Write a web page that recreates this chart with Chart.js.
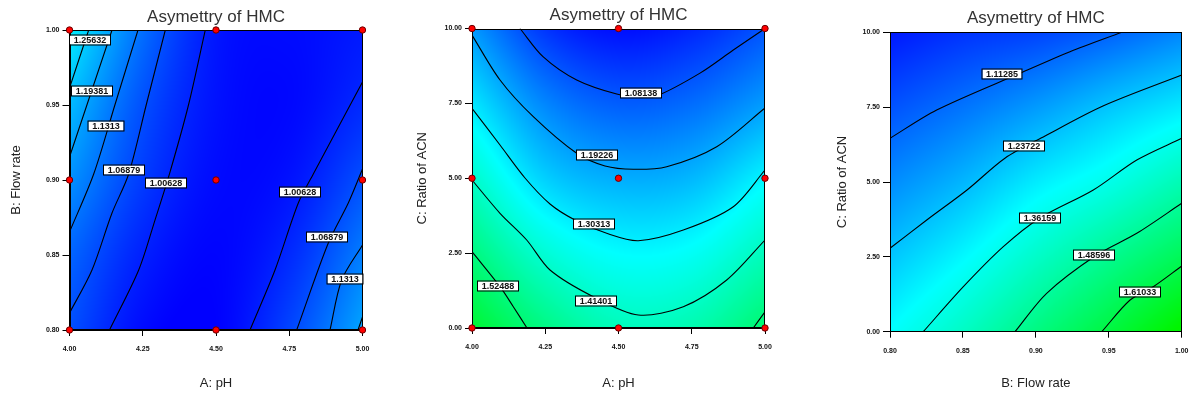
<!DOCTYPE html>
<html>
<head>
<meta charset="utf-8">
<script src="https://cdn.jsdelivr.net/npm/chart.js@4/dist/chart.umd.min.js"></script>
<style>
  html, body { margin: 0; padding: 0; background: #fff; }
  #wrap { position: relative; width: 1192px; height: 400px; overflow: hidden; }
  #wrap canvas { position: absolute; top: 0; }
</style>
</head>
<body>
<div id="wrap">
  <canvas id="cPhFlow" width="400" height="400" style="left:0px"></canvas>
  <canvas id="cPhAcn" width="420" height="400" style="left:400px"></canvas>
  <canvas id="cFlowAcn" width="372" height="400" style="left:820px"></canvas>
</div>
<script>
// ---------- axis ticks ----------
const phTicks = [4.00, 4.25, 4.50, 4.75, 5.00];
const phTickLabels = ['4.00', '4.25', '4.50', '4.75', '5.00'];
const flowTicks = [0.80, 0.85, 0.90, 0.95, 1.00];
const flowTickLabels = ['0.80', '0.85', '0.90', '0.95', '1.00'];
const acnTicks = [0, 2.5, 5, 7.5, 10];
const acnTickLabels = ['0.00', '2.50', '5.00', '7.50', '10.00'];

// ---------- response surface: asymmetry of HMC ----------
// rows follow the y ticks (bottom -> top), columns follow the x ticks (left -> right)
const asymPhFlow = [
  [1.075, 0.975, 0.960, 1.059, 1.200],
  [1.107, 1.006, 0.965, 1.019, 1.142],
  [1.170, 1.045, 0.975, 0.985, 1.075],
  [1.232, 1.076, 0.985, 0.970, 1.020],
  [1.307, 1.120, 0.992, 0.975, 0.995]
];
const asymPhAcn = [
  [1.642, 1.520, 1.438, 1.453, 1.550],
  [1.527, 1.393, 1.329, 1.343, 1.434],
  [1.411, 1.262, 1.212, 1.227, 1.316],
  [1.296, 1.154, 1.095, 1.117, 1.186],
  [1.182, 1.035, 0.980, 1.012, 1.081]
];
const asymFlowAcn = [
  [1.332, 1.420, 1.523, 1.623, 1.735],
  [1.247, 1.322, 1.412, 1.500, 1.588],
  [1.162, 1.224, 1.302, 1.363, 1.445],
  [1.078, 1.128, 1.184, 1.246, 1.300],
  [0.993, 1.032, 1.056, 1.100, 1.154]
];

// ---------- contour levels ----------
const levelsPhFlow = [1.00628, 1.06879, 1.1313, 1.19381, 1.25632];
const levelsPhAcn = [1.08138, 1.19226, 1.30313, 1.41401, 1.52488];
const levelsFlowAcn = [1.11285, 1.23722, 1.36159, 1.48596, 1.61033];

// ---------- contour traces, [x, y] in axis units ----------
// A: pH vs B: Flow rate
const pf1006L = [[4.4635,1.000],[4.4061,0.950],[4.3430,0.9053],[4.2918,0.8733],[4.2362,0.840],[4.1365,0.800]];
const pf1069L = [[4.3270,1.000],[4.2618,0.950],[4.2020,0.904],[4.1451,0.878],[4.0768,0.840],[4.0000,0.8113]];
const pf1131L = [[4.2338,1.000],[4.1549,0.950],[4.0826,0.904],[4.0000,0.8653]];
const pf1194L = [[4.1451,1.000],[4.0594,0.950],[4.0000,0.9153]];
const pf1256L = [[4.0655,1.000],[4.0000,0.9613]];
const pf1006R = [[5.0000,0.9653],[4.8321,0.904],[4.7809,0.8847],[4.7014,0.840],[4.6160,0.800]];
const pf1069R = [[5.0000,0.9073],[4.9515,0.8847],[4.8833,0.858],[4.7754,0.800]];
const pf1131R = [[5.0000,0.8567],[4.9290,0.8333],[4.8891,0.800]];
const pf1194R = [[5.0000,0.8087],[4.9846,0.800]];
// A: pH vs C: Ratio of ACN
const pa1081 = [[4.1638,10.0],[4.2423,9.06],[4.3573,8.28],[4.4939,7.81],[4.5700,7.72],[4.6304,7.75],[4.7782,8.51],[4.8918,9.28],[5.0000,10.0]];
const pa1192 = [[4.0000,9.78],[4.0956,8.28],[4.2092,7.055],[4.3573,5.833],[4.4539,5.41],[4.5505,5.30],[4.6645,5.386],[4.8352,6.053],[5.0000,7.346]];
const pa1303 = [[4.0000,7.336],[4.0956,6.110],[4.1809,5.008],[4.2662,4.140],[4.3515,3.606],[4.4597,3.162],[4.5676,2.915],[4.7212,3.272],[4.8918,4.050],[5.0000,5.275]];
const pa1414 = [[4.0000,4.942],[4.0956,3.830],[4.1867,2.938],[4.2662,1.937],[4.4140,1.045],[4.5676,0.434],[4.7212,0.711],[4.8693,1.603],[5.0000,2.938]];
const pa1525L = [[4.0000,2.548],[4.0956,1.379],[4.1410,0.711],[4.1877,0.000]];
const pa1525R = [[4.9600,0.000],[5.0000,0.544]];
// B: Flow rate vs C: Ratio of ACN
const fa1113 = [[0.8000,6.460],[0.8320,7.405],[0.8891,8.631],[0.9234,9.352],[0.9589,10.0]];
const fa1237 = [[0.8000,2.786],[0.8252,3.731],[0.8528,4.733],[0.8788,5.795],[0.9063,6.536],[0.9460,7.538],[1.0000,8.574]];
const fa1362 = [[0.8228,0.000],[0.8503,1.503],[0.8777,2.839],[0.9028,3.798],[0.9394,4.733],[0.9692,5.735],[1.0000,6.460]];
const fa1486 = [[0.8857,0.000],[0.9074,1.283],[0.9417,2.562],[0.9692,3.287],[1.0000,4.289]];
const fa1610 = [[0.9452,0.000],[0.9646,1.059],[0.9805,1.503],[1.0000,2.194]];

// ---------- contour label anchors: [x, y, level index] ----------
const labelsPhFlow = [[4.070,0.9933,4],[4.0757,0.9595,3],[4.1246,0.9357,2],[4.185,0.9065,1],[4.329,0.898,0],
                      [4.7867,0.892,0],[4.8805,0.8617,1],[4.9403,0.8343,2]];
const labelsPhAcn = [[4.577,7.86,0],[4.4283,5.79,1],[4.4164,3.456,2],[4.4232,0.918,3],[4.0898,1.409,4]];
const labelsFlowAcn = [[0.8768,8.60,0],[0.8919,6.20,1],[0.9028,3.80,2],[0.9401,2.555,3],[0.9716,1.336,4]];

// ---------- design points ----------
const runsPhFlow = [[4,0.8],[4.5,0.8],[5,0.8],[4,0.9],[4.5,0.9],[5,0.9],[4,1.0],[4.5,1.0],[5,1.0]];
const runsPhAcn = [[4,0],[4.5,0],[5,0],[4,5],[4.5,5],[5,5],[4,10],[4.5,10],[5,10]];

// ---------- helpers ----------
Chart.defaults.font.family = "'Liberation Sans', Arial, Helvetica, sans-serif";

const colorStops = [[0.96, [0, 0, 255]], [1.33, [0, 255, 255]], [1.72, [0, 245, 0]]];

function colorFor(v) {
  if (v <= colorStops[0][0]) return colorStops[0][1];
  for (let i = 1; i < colorStops.length; i++) {
    if (v <= colorStops[i][0]) {
      const [v0, c0] = colorStops[i - 1], [v1, c1] = colorStops[i];
      const t = (v - v0) / (v1 - v0);
      return [0, 1, 2].map(k => c0[k] + (c1[k] - c0[k]) * t);
    }
  }
  return colorStops[colorStops.length - 1][1];
}

function cr(p0, p1, p2, p3, t) {
  return p1 + 0.5 * t * (p2 - p0 + t * (2 * p0 - 5 * p1 + 4 * p2 - p3 + t * (3 * (p1 - p2) + p3 - p0)));
}

function gridAt(g, r, c) {
  const n = g.length, m = g[0].length;
  if (r < 0) return 2 * gridAt(g, 0, c) - gridAt(g, 1, c);
  if (r >= n) return 2 * gridAt(g, n - 1, c) - gridAt(g, n - 2, c);
  if (c < 0) return 2 * g[r][0] - g[r][1];
  if (c >= m) return 2 * g[r][m - 1] - g[r][m - 2];
  return g[r][c];
}

function sampleSurface(g, xs, ys, x, y) {
  let fx = (x - xs[0]) / (xs[xs.length - 1] - xs[0]) * (xs.length - 1);
  let fy = (y - ys[0]) / (ys[ys.length - 1] - ys[0]) * (ys.length - 1);
  fx = Math.max(0, Math.min(xs.length - 1.000001, fx));
  fy = Math.max(0, Math.min(ys.length - 1.000001, fy));
  const c = Math.floor(fx), r = Math.floor(fy), tx = fx - c, ty = fy - r;
  const rows = [];
  for (let k = -1; k <= 2; k++) {
    rows.push(cr(gridAt(g, r + k, c - 1), gridAt(g, r + k, c), gridAt(g, r + k, c + 1), gridAt(g, r + k, c + 2), tx));
  }
  return cr(rows[0], rows[1], rows[2], rows[3], ty);
}

function fmtLevel(v) { return String(Number(v.toFixed(5))); }

function makeSurfacePlugin(grid, xs, ys) {
  return {
    id: 'surface',
    beforeDatasetsDraw(chart) {
      const { ctx, chartArea: a, scales } = chart;
      const L = Math.round(a.left), T = Math.round(a.top);
      const w = Math.round(a.right) - L, h = Math.round(a.bottom) - T;
      const off = document.createElement('canvas');
      off.width = w; off.height = h;
      const octx = off.getContext('2d');
      const img = octx.createImageData(w, h);
      const xv = [], yv = [];
      for (let i = 0; i < w; i++) xv.push(scales.x.getValueForPixel(L + i + 0.5));
      for (let j = 0; j < h; j++) yv.push(scales.y.getValueForPixel(T + j + 0.5));
      let p = 0;
      for (let j = 0; j < h; j++) {
        for (let i = 0; i < w; i++) {
          const col = colorFor(sampleSurface(grid, xs, ys, xv[i], yv[j]));
          img.data[p++] = col[0]; img.data[p++] = col[1]; img.data[p++] = col[2]; img.data[p++] = 255;
        }
      }
      octx.putImageData(img, 0, 0);
      ctx.save();
      ctx.drawImage(off, L, T);
      ctx.strokeStyle = '#000';
      ctx.lineWidth = 1;
      ctx.strokeRect(L + 0.5, T + 0.5, w - 1, h - 1);
      ctx.restore();
    }
  };
}

function makeLabelPlugin(labels, levels) {
  return {
    id: 'contourLabels',
    afterDatasetsDraw(chart) {
      const { ctx, scales } = chart;
      ctx.save();
      ctx.font = "bold 9px 'Liberation Sans', Arial, sans-serif";
      ctx.textAlign = 'center';
      ctx.textBaseline = 'middle';
      labels.forEach(([x, y, k]) => {
        const px = Math.round(scales.x.getPixelForValue(x));
        const py = Math.round(scales.y.getPixelForValue(y));
        const txt = fmtLevel(levels[k]);
        const w = Math.round(ctx.measureText(txt).width) + 7, h = 9;
        ctx.fillStyle = '#fff';
        ctx.fillRect(px - w / 2, py - h / 2, w, h);
        ctx.strokeStyle = '#000';
        ctx.lineWidth = 1;
        ctx.strokeRect(px - w / 2 - 0.5, py - h / 2 - 0.5, w + 1, h + 1);
        ctx.fillStyle = '#111';
        ctx.fillText(txt, px, py + 0.5);
      });
      ctx.restore();
    }
  };
}

function makeTitlePlugin(text, y) {
  return {
    id: 'plotTitle',
    afterDraw(chart) {
      const { ctx, chartArea: a } = chart;
      ctx.save();
      ctx.font = "17px 'Liberation Sans', Arial, sans-serif";
      ctx.fillStyle = '#333';
      ctx.textAlign = 'center';
      ctx.textBaseline = 'middle';
      ctx.fillText(text, (a.left + a.right) / 2, y);
      ctx.restore();
    }
  };
}

function axis(ticks, labels, min, max, title, size, titlePad) {
  return {
    type: 'linear', min, max,
    afterBuildTicks: s => { s.ticks = ticks.map(v => ({ value: v })); },
    afterFit: s => {
      if (s.isHorizontal()) s.height = size; else s.width = size;
      // keep the plot frame where the layout padding puts it
      s.paddingLeft = 0; s.paddingRight = 0; s.paddingTop = 0; s.paddingBottom = 0;
    },
    ticks: {
      callback: (v, i) => labels[i],
      font: { size: 7, weight: 'bold' }, color: '#111',
      padding: 3, maxRotation: 0, autoSkip: false
    },
    grid: { drawOnChartArea: false, drawTicks: true, tickLength: 7, color: '#000', lineWidth: 1 },
    border: { display: true, color: '#000', width: 1 },
    title: { display: true, text: title, font: { size: 13 }, color: '#222', padding: titlePad }
  };
}

function buildChart(id, cfg) {
  const xAxis = axis(cfg.xTicks, cfg.xLabels, cfg.xTicks[0], cfg.xTicks[cfg.xTicks.length - 1], cfg.xTitle, cfg.xSize, { top: 0, bottom: 5 });
  xAxis.ticks.padding = 9;
  xAxis.grid.tickLength = 6;
  const yAxis = axis(cfg.yTicks, cfg.yLabels, cfg.yTicks[0], cfg.yTicks[cfg.yTicks.length - 1], cfg.yTitle, cfg.ySize, { top: cfg.yTitlePad, bottom: 0 });
  const datasets = [];
  if (cfg.runs) {
    datasets.push({
      data: cfg.runs.map(([x, y]) => ({ x, y })),
      showLine: false, pointRadius: 3.2, pointHoverRadius: 3.2,
      pointBackgroundColor: '#ff0000', pointBorderColor: '#6a0000', pointBorderWidth: 1,
      clip: false
    });
  }
  cfg.lines.forEach(pts => {
    datasets.push({
      data: pts.map(([x, y]) => ({ x, y })),
      showLine: true, borderColor: '#000', borderWidth: 1.1, pointRadius: 0,
      tension: 0.3, fill: false
    });
  });
  return new Chart(document.getElementById(id), {
    type: 'scatter',
    data: { datasets },
    options: {
      responsive: false, animation: false,
      layout: { padding: cfg.padding },
      plugins: { legend: { display: false }, tooltip: { enabled: false } },
      scales: { x: xAxis, y: yAxis }
    },
    plugins: [
      makeSurfacePlugin(cfg.grid, cfg.xTicks, cfg.yTicks),
      makeLabelPlugin(cfg.labels, cfg.levels),
      makeTitlePlugin('Asymettry of HMC', cfg.titleY)
    ]
  });
}

buildChart('cPhFlow', {
  xTicks: phTicks, xLabels: phTickLabels, xTitle: 'A: pH', xSize: 66,
  yTicks: flowTicks, yLabels: flowTickLabels, yTitle: 'B: Flow rate', ySize: 65.5, yTitlePad: 5,
  padding: { left: 4, top: 30, right: 37.5, bottom: 4 },
  grid: asymPhFlow, levels: levelsPhFlow, labels: labelsPhFlow, runs: runsPhFlow,
  lines: [pf1006L, pf1069L, pf1131L, pf1194L, pf1256L, pf1006R, pf1069R, pf1131R, pf1194R],
  titleY: 17
});

buildChart('cPhAcn', {
  xTicks: phTicks, xLabels: phTickLabels, xTitle: 'A: pH', xSize: 68,
  yTicks: acnTicks, yLabels: acnTickLabels, yTitle: 'C: Ratio of ACN', ySize: 68, yTitlePad: 11,
  padding: { left: 4, top: 28.5, right: 55, bottom: 4 },
  grid: asymPhAcn, levels: levelsPhAcn, labels: labelsPhAcn, runs: runsPhAcn,
  lines: [pa1081, pa1192, pa1303, pa1414, pa1525L, pa1525R],
  titleY: 15
});

buildChart('cFlowAcn', {
  xTicks: flowTicks, xLabels: flowTickLabels, xTitle: 'B: Flow rate', xSize: 64.3,
  yTicks: acnTicks, yLabels: acnTickLabels, yTitle: 'C: Ratio of ACN', ySize: 66, yTitlePad: 11,
  padding: { left: 4, top: 32.3, right: 10.3, bottom: 4 },
  grid: asymFlowAcn, levels: levelsFlowAcn, labels: labelsFlowAcn, runs: null,
  lines: [fa1113, fa1237, fa1362, fa1486, fa1610],
  titleY: 18
});
</script>
</body>
</html>
